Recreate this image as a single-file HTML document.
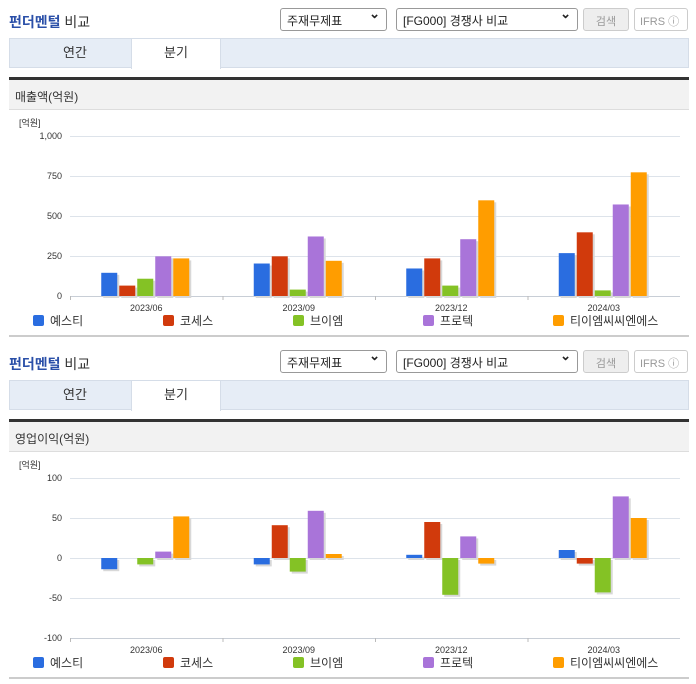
<!DOCTYPE html>
<html><head><meta charset="utf-8">
<style>
*{box-sizing:border-box;margin:0;padding:0}
body{width:696px;height:684px;background:#fff;font-family:"Liberation Sans","Noto Sans CJK KR",sans-serif;position:relative;overflow:hidden}
.sec{position:absolute;left:0;width:696px;height:342px}
.title{position:absolute;left:9px;top:12px;font-size:14px;color:#333}
.title b{color:#2a4fa8;font-weight:bold}
.sel{position:absolute;top:8px;height:23px;border:1px solid #999;border-radius:3px;font-size:12px;color:#222;padding:3px 6px;background:#fff;white-space:nowrap}
.sel:after{content:"⌄";position:absolute;right:6px;top:-3px;font-weight:bold;font-size:13px}
.btn{position:absolute;top:8px;height:23px;border:1px solid #ccc;border-radius:3px;font-size:11px;color:#999;padding:4px 5px;background:#eee;white-space:nowrap;overflow:hidden}
.tabs{position:absolute;left:9px;top:38px;width:680px;height:30px;background:#e6edf6;border:1px solid #d5dde8}
.tab{position:absolute;top:0;height:29px;font-size:13px;color:#333;text-align:center;line-height:28px;width:90px}
.tab.on{background:#fff;border-left:1px solid #d5dde8;border-right:1px solid #d5dde8;height:30px}
.dark{position:absolute;left:9px;top:77px;width:680px;height:3px;background:#333}
.sub{position:absolute;left:9px;top:80px;width:680px;height:30px;background:#f2f2f2;font-size:12px;color:#333;padding:8px 6px;border-bottom:1px solid #ddd}
.bot{position:absolute;left:9px;top:335px;width:680px;height:2px;background:#ccc}
svg{position:absolute;left:0;top:110px}
</style></head><body>
<div id="s1" class="sec" style="top:0"></div>
<div id="s2" class="sec" style="top:342px"></div>
<script>
const categories=["2023/06","2023/09","2023/12","2024/03"];
const series=["예스티","코세스","브이엠","프로텍","티이엠씨씨엔에스"];
const colors=["#2a6de0","#d13a0c","#84c225","#a974d9","#ff9d00"];
const revenueValues=[[145,203,172,268],[65,248,235,398],[108,40,65,35],[248,372,355,572],[235,220,598,773]];
const revenueTicks=[0,250,500,750,1000];
const revenueTickLabels=["0","250","500","750","1,000"];
const profitValues=[[-14,-8,4,10],[0,41,45,-7],[-8,-17,-46,-43],[8,59,27,77],[52,5,-7,50]];
const profitTicks=[-100,-50,0,50,100];
const profitTickLabels=["-100","-50","0","50","100"];
const NS="http://www.w3.org/2000/svg";
function mk(t,a,p){const e=document.createElementNS(NS,t);for(const k in a)e.setAttribute(k,a[k]);p.appendChild(e);return e;}
function build(id,sub,vals,ticks,labels,mn,mx){
 const s=document.getElementById(id);
 s.innerHTML=`<div class="title"><b>펀더멘털</b> 비교</div>
 <div class="sel" style="left:280px;width:107px">주재무제표</div>
 <div class="sel" style="left:396px;width:182px">[FG000] 경쟁사 비교</div>
 <div class="btn" style="left:583px;width:46px;text-align:center">검색</div>
 <div class="btn" style="left:634px;width:54px;background:#fff">IFRS ⓘ</div>
 <div class="tabs"><div class="tab" style="left:20px">연간</div><div class="tab on" style="left:121px">분기</div></div>
 <div class="dark"></div>
 <div class="sub">${sub}</div>
 <div class="bot"></div>`;
 const svg=mk("svg",{width:696,height:232},s);
 
 
 const X0=70,X1=680,Y0=186,Y1=26;
 const y=v=>Y0-(v-mn)/(mx-mn)*(Y0-Y1);
 const gw=(X1-X0)/categories.length;
 const u=mk("text",{x:19,y:16,"font-size":9,fill:"#333"},svg);u.textContent="[억원]";
 ticks.forEach((t,i)=>{
  mk("line",{x1:X0,x2:X1,y1:y(t)+.5,y2:y(t)+.5,stroke:"#dde3ea"},svg);
  const tx=mk("text",{x:62,y:y(t)+3,"font-size":9,fill:"#333","text-anchor":"end"},svg);tx.textContent=labels[i];
 });
 mk("line",{x1:X0,x2:X1,y1:Y0+.5,y2:Y0+.5,stroke:"#c8ced6"},svg);
 categories.forEach((c,ci)=>{
  const cx=X0+gw*(ci+.5);
  mk("line",{x1:X0+gw*ci+.5,x2:X0+gw*ci+.5,y1:Y0,y2:Y0+4,stroke:"#bbb"},svg);
  const t=mk("text",{x:cx,y:Y0+15,"font-size":9,fill:"#333","text-anchor":"middle"},svg);t.textContent=c;
  series.forEach((sn,si)=>{
   const v=vals[si][ci];if(v===0)return;const z=y(Math.max(0,mn));
   const top=Math.min(y(v),z),h=Math.max(Math.abs(y(v)-z),1);
   const bx=cx-45+si*18;
   mk("rect",{x:bx+2,y:top+2,width:16,height:h,fill:"#d8d8d8"},svg);
   const r=mk("rect",{x:bx,y:top,width:16,height:h,fill:colors[si]},svg);
   
   
  });
 });
 const lx=[33,163,293,423,553];
 series.forEach((sn,si)=>{
  const g=mk("g",{},svg);
  
  
  mk("rect",{x:lx[si],y:205,width:11,height:11,rx:2,fill:colors[si]},g);
  const t=mk("text",{x:lx[si]+17,y:215,"font-size":12,fill:"#333"},g);t.textContent=sn;
 });
}
build("s1","매출액(억원)",revenueValues,revenueTicks,revenueTickLabels,0,1000);
build("s2","영업이익(억원)",profitValues,profitTicks,profitTickLabels,-100,100);
</script>
</body></html>
